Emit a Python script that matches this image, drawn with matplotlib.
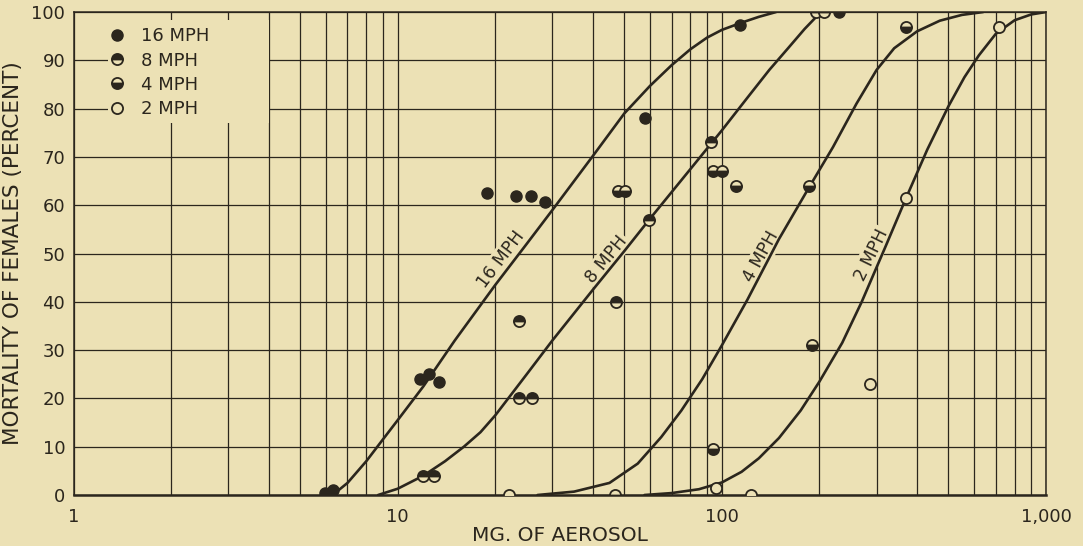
import numpy as np
import matplotlib
matplotlib.use("Agg")
import matplotlib.pyplot as plt
from matplotlib.lines import Line2D
from matplotlib.patches import Rectangle
from matplotlib.ticker import FixedLocator, LogLocator, NullFormatter

# observed points (mg of aerosol, mortality %)
pts16_x = [5.96, 6.32, 11.7, 12.5, 13.4, 18.9, 23.2, 25.7, 28.4, 58, 114, 230]
pts16_y = [0.5, 1, 24, 25, 23.3, 62.5, 62, 62, 60.7, 78, 97.3, 100]
pts8_x = [12.0, 12.9, 23.6, 25.9, 23.6, 47.2, 59.5, 92.6, 195, 207]
pts8_y = [4, 4, 20, 20, 36, 40, 57, 73, 100, 100]
pts4_x = [46.8, 47.7, 50.4, 93.7, 100, 110.6, 94.2, 185, 190, 371]
pts4_y = [0, 63, 63, 67, 67, 64, 9.5, 64, 31, 97]
pts2_x = [22, 96, 123, 286, 371, 716]
pts2_y = [0, 1.5, 0, 23, 61.5, 97]

# fitted curves
c16_x = [6.3, 7, 8, 9, 10, 12, 15, 20, 25, 30, 40, 50, 60, 70, 80, 90, 100, 115, 130, 147]
c16_y = [0, 2.5, 7, 11.5, 15.5, 22.5, 32, 43.5, 52, 59, 70.2, 79, 84.7, 89, 92.3, 94.7, 96.3, 97.8, 99, 100]
c8_x = [8.7, 10, 12, 14, 16, 18, 20, 25, 30, 40, 50, 60, 80, 100, 120, 140, 160, 180, 202]
c8_y = [0, 1.3, 4, 7, 10, 13, 16.5, 25, 32, 42.5, 50.5, 57.2, 67.5, 75.5, 82.3, 88, 92.5, 96.5, 100]
c4_x = [27, 35, 45, 55, 65, 75, 87, 100, 120, 150, 185, 220, 260, 300, 340, 400, 470, 550, 640]
c4_y = [0, 0.7, 2.5, 6.5, 12, 17.5, 24, 31, 40.5, 53, 63.5, 72, 81, 88, 92.5, 96, 98.2, 99.4, 100]
c2_x = [57.7, 70, 85, 100, 115, 130, 150, 175, 200, 235, 270, 320, 370, 430, 500, 560, 620, 700, 800, 900, 1000]
c2_y = [0, 0.4, 1.2, 2.6, 4.8, 7.6, 11.8, 17.5, 23.5, 31.5, 40, 51.5, 61.5, 71.5, 80.5, 86.5, 91, 95.5, 98.3, 99.5, 100]

series = ['16 MPH', '8 MPH', '4 MPH', '2 MPH']
x_ticks = [1, 10, 100, 1000]
x_ticklabels = ['1', '10', '100', '1,000']
y_ticks = list(range(0, 101, 10))

bg = '#ece1b5'
ink = '#2b261d'

plt.rcParams['font.family'] = ['DejaVu Sans']
fig = plt.figure(figsize=(10.83, 5.46), dpi=100, facecolor=bg)
ax = fig.add_axes([0.0679, 0.0934, 0.898, 0.8846], facecolor=bg)

ax.set_xscale('log')
ax.set_xlim(1, 1000)
ax.set_ylim(0, 100)

# curves
for cx, cy in [(c16_x, c16_y), (c8_x, c8_y), (c4_x, c4_y), (c2_x, c2_y)]:
    ax.plot(cx, cy, color=ink, lw=1.9, zorder=3, solid_capstyle='round', solid_joinstyle='round')

# points
ms = 8
ax.plot(pts16_x, pts16_y, 'o', ms=ms, color=ink, mec=ink, zorder=4)
ax.plot(pts8_x, pts8_y, 'o', ms=ms, fillstyle='top', mfc=ink, mfcalt=bg, mec=ink, mew=1.3, zorder=4)
ax.plot(pts4_x, pts4_y, 'o', ms=ms, fillstyle='bottom', mfc=ink, mfcalt=bg, mec=ink, mew=1.3, zorder=4)
ax.plot(pts2_x, pts2_y, 'o', ms=ms, mfc=bg, mec=ink, mew=1.3, zorder=4)

# curve labels
lab_kw = dict(ha='center', va='center', fontsize=12.5, color=ink, rotation_mode='anchor',
              zorder=2.5, bbox=dict(fc=bg, ec='none', pad=1.5))
ax.text(20.8, 48.7, '16 MPH', rotation=53, **lab_kw)
ax.text(44.1, 48.7, '8 MPH', rotation=51, **lab_kw)
ax.text(132.4, 49.3, '4 MPH', rotation=61, **lab_kw)
ax.text(289, 49.7, '2 MPH', rotation=64, **lab_kw)

# grid
ax.xaxis.set_major_locator(FixedLocator(x_ticks))
ax.set_xticklabels(x_ticklabels)
ax.xaxis.set_minor_locator(LogLocator(base=10, subs=np.arange(2, 10)))
ax.xaxis.set_minor_formatter(NullFormatter())
ax.set_yticks(y_ticks)
ax.set_axisbelow(True)
ax.grid(True, which='both', axis='x', color=ink, lw=0.9)
ax.grid(True, which='major', axis='y', color=ink, lw=0.9)
ax.tick_params(axis='both', which='both', length=0, labelsize=13, colors=ink)
ax.tick_params(axis='x', pad=9)
ax.tick_params(axis='y', pad=6)
for s in ax.spines.values():
    s.set_color(ink)
    s.set_linewidth(1.1)
ax.spines['bottom'].set_linewidth(1.8)

ax.set_xlabel('MG. OF AEROSOL', fontsize=14.5, color=ink, labelpad=0)
ax.set_ylabel('MORTALITY OF FEMALES (PERCENT)', fontsize=15.5, color=ink, labelpad=6)

# legend with blanked area
ax.add_patch(Rectangle((0.0355, 0.77), 0.165, 0.213, transform=ax.transAxes,
                       fc=bg, ec='none', zorder=1))
handles = [
    Line2D([], [], ls='none', marker='o', ms=ms, color=ink),
    Line2D([], [], ls='none', marker='o', ms=ms, fillstyle='top', mfc=ink, mfcalt=bg, mec=ink, mew=1.3),
    Line2D([], [], ls='none', marker='o', ms=ms, fillstyle='bottom', mfc=ink, mfcalt=bg, mec=ink, mew=1.3),
    Line2D([], [], ls='none', marker='o', ms=ms, mfc=bg, mec=ink, mew=1.3),
]
leg = ax.legend(handles, series, loc='upper left', bbox_to_anchor=(0.0373, 0.968),
                frameon=False, fontsize=13, handlelength=0.8, handletextpad=0.9,
                borderpad=0, borderaxespad=0, labelspacing=0.34, labelcolor=ink)
leg.set_zorder(5)

fig.savefig('out.png', dpi=100, facecolor=bg)
